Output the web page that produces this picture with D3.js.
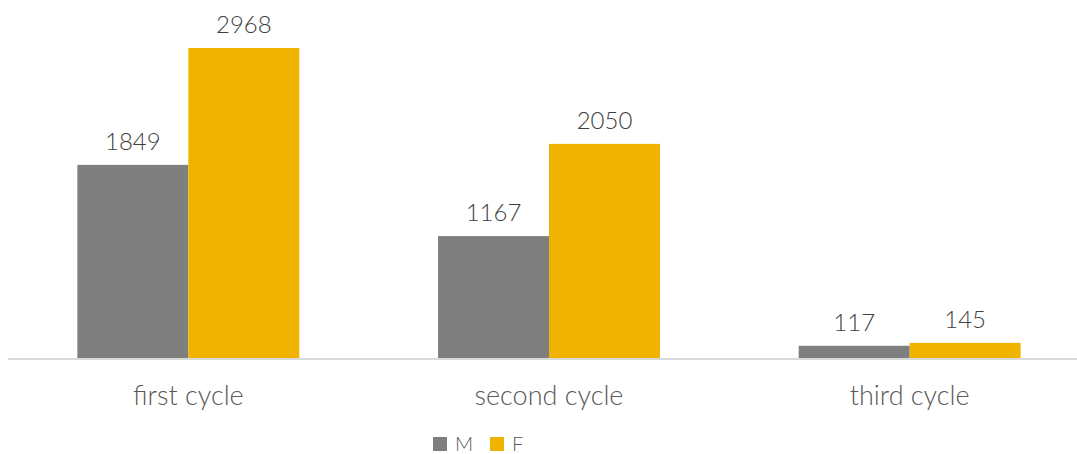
<!DOCTYPE html>
<html>
<head>
<meta charset="utf-8">
<script src="https://cdn.jsdelivr.net/npm/d3@7"></script>
<style>
  body { margin: 0; background: #fff; }
  text { font-family: Lato, "Open Sans", sans-serif; font-weight: 300; }
</style>
</head>
<body>
<svg id="chart" width="1077" height="454"></svg>
<script>
var categories = ['first cycle', 'second cycle', 'third cycle'];
var series = ['M', 'F'];
var valuesM = [1849, 1167, 117];
var valuesF = [2968, 2050, 145];
var colors = { M: '#7f7f7f', F: '#f0b400' };

var svg = d3.select('#chart');
var baseY = 358;

var x0 = d3.scaleBand().domain(categories).range([8, 1090]).paddingInner(0).paddingOuter(0);
var x1 = d3.scaleBand().domain(series).range([0, x0.bandwidth()]).paddingInner(0).paddingOuter(0.625);
var y = d3.scaleLinear().domain([0, 3000]).range([baseY, baseY - 3000 * 0.10445]);

var rows = categories.map(function (c, i) {
  return { cat: c, vals: [{ s: 'M', v: valuesM[i] }, { s: 'F', v: valuesF[i] }] };
});

var g = svg.selectAll('g.cat').data(rows).enter().append('g')
  .attr('class', 'cat')
  .attr('transform', function (d) { return 'translate(' + x0(d.cat) + ',0)'; });

g.selectAll('rect').data(function (d) { return d.vals; }).enter().append('rect')
  .attr('x', function (d) { return x1(d.s); })
  .attr('y', function (d) { return y(d.v); })
  .attr('width', x1.bandwidth())
  .attr('height', function (d) { return baseY - y(d.v); })
  .attr('fill', function (d) { return colors[d.s]; });

g.selectAll('text.val').data(function (d) { return d.vals; }).enter().append('text')
  .attr('class', 'val')
  .attr('x', function (d) { return x1(d.s) + x1.bandwidth() / 2; })
  .attr('y', function (d) { return y(d.v) - 15; })
  .attr('text-anchor', 'middle')
  .attr('font-size', 24)
  .attr('fill', '#404040')
  .text(function (d) { return d.v; });

// axis line
svg.append('line')
  .attr('x1', 8).attr('x2', 1077)
  .attr('y1', baseY + 1).attr('y2', baseY + 1)
  .attr('stroke', '#d9d9d9').attr('stroke-width', 2);

var xAxis = d3.axisBottom(x0).tickSize(0).tickPadding(0);
var ax = svg.append('g').attr('transform', 'translate(0,' + baseY + ')').call(xAxis);
ax.select('.domain').remove();
ax.selectAll('text')
  .attr('y', 47)
  .attr('dy', 0)
  .attr('font-size', 27)
  .attr('fill', '#595959')
  .style('font-family', 'Lato, "Open Sans", sans-serif')
  .style('font-weight', 300);

// legend
var legend = svg.append('g').attr('transform', 'translate(433,437)');
var items = legend.selectAll('g').data(series).enter().append('g')
  .attr('transform', function (d, i) { return 'translate(' + (i * 57) + ',0)'; });
items.append('rect').attr('width', 14).attr('height', 14)
  .attr('fill', function (d) { return colors[d]; });
items.append('text').attr('x', 22).attr('y', 14)
  .attr('font-size', 20).attr('fill', '#595959')
  .text(function (d) { return d; });
</script>
</body>
</html>
